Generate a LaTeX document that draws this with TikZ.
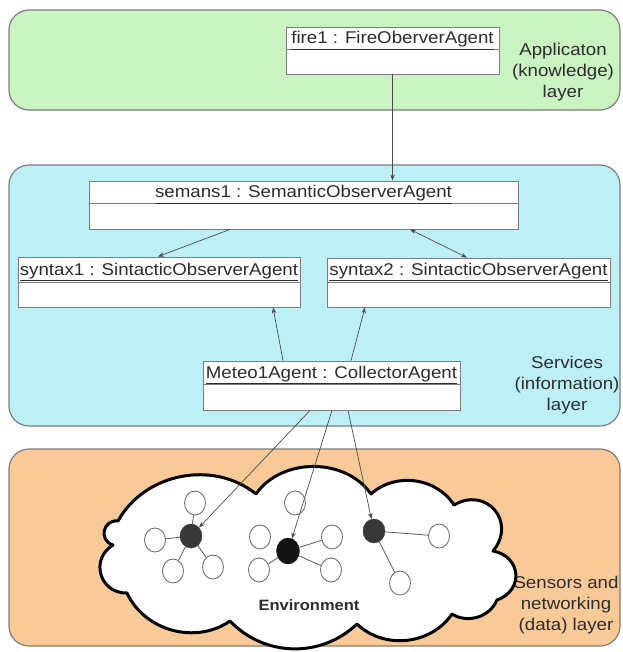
\documentclass[tikz,border=0pt]{standalone}
\usepackage{fontspec}
\setmainfont{Liberation Sans}[FakeStretch=1.1]
\usetikzlibrary{arrows.meta,calc,shapes.geometric}
\definecolor{appgreen}{RGB}{201,243,192}
\definecolor{svcblue}{RGB}{189,240,246}
\definecolor{datorange}{RGB}{249,201,152}
\definecolor{edgegray}{RGB}{125,125,125}
\definecolor{txt}{RGB}{45,45,45}
\tikzset{
  layer/.style={draw=edgegray, line width=1.2pt, rounded corners=20pt},
  umlbox/.style={draw=edgegray, fill=white, line width=0.9pt, inner sep=0pt},
  divider/.style={draw=edgegray, line width=1pt},
  hdr/.style={font=\fontsize{17}{21}\selectfont, text=txt, inner sep=1pt, anchor=base},
  lbl/.style={font=\fontsize{17}{21}\selectfont, text=txt, align=center, inner sep=0pt},
  envlbl/.style={font=\bfseries\fontsize{15}{18}\selectfont, text=txt, inner sep=0pt},
  conn/.style={draw=black!70, line width=0.7pt, -{Stealth[length=6pt,width=4.5pt]}},
  conntwo/.style={draw=black!70, line width=0.7pt, {Stealth[length=6pt,width=4.5pt]}-{Stealth[length=6pt,width=4.5pt]}},
  cloudline/.style={draw=black, line width=3pt, fill=white, line join=round},
  sensor/.style={ellipse, draw=black!55, line width=0.9pt, minimum width=21pt, minimum height=24pt, inner sep=0pt},
  hub/.style={ellipse, draw=black!80, fill=black!78, minimum width=22pt, minimum height=24pt, inner sep=0pt},
  wire/.style={draw=black!65, line width=0.8pt},
}
\begin{document}
\begin{tikzpicture}[x=1pt,y=-1pt]
\useasboundingbox (0,0) rectangle (622,652);
\fill[white] (0,0) rectangle (622,652);

% layers
\draw[layer, fill=appgreen] (9,10) rectangle (620,110);
\draw[layer, fill=svcblue] (9,165) rectangle (620,426);
\draw[layer, fill=datorange] (9,449) rectangle (620,646);

% layer labels
\node[lbl] (lapp) at (563,72) {Applicaton\\(knowledge)\\layer};
\node[lbl] (lsvc) at (567,385) {Services\\(information)\\layer};
\node[lbl] (ldat) at (566,605) {Sensors and\\networking\\(data) layer};

% cloud
\draw[cloudline]
  (118,521) to[bend left=50] (256,494)
  to[bend left=55] (371,494)
  to[bend left=50] (454,505)
  to[bend left=80, looseness=1.6] (493,551)
  to[bend left=75, looseness=1.5] (497,600)
  to[bend left=50] (452,614)
  to[bend left=50] (357,624)
  to[bend left=45] (230,621)
  to[bend left=50] (127,593)
  to[bend left=75, looseness=1.4] (113,545)
  to[bend left=85, looseness=1.6] (118,521) -- cycle;

\node[envlbl] (env) at (309,605) {Environment};

% network nodes
\node[hub] (n1) at (191,536) {};
\node[hub, fill=black!92, draw=black!95, minimum width=23pt, minimum height=26pt] (n2) at (288,551) {};
\node[hub] (n3) at (374,531) {};
\node[sensor] (s1) at (195,503) {};
\node[sensor] (s2) at (155,540) {};
\node[sensor] (s3) at (173,571) {};
\node[sensor] (s4) at (213,567) {};
\node[sensor] (s5) at (295,503) {};
\node[sensor] (s6) at (260,537) {};
\node[sensor] (s7) at (259,570) {};
\node[sensor] (s8) at (332,537) {};
\node[sensor] (s9) at (331,570) {};
\node[sensor] (s10) at (439,536) {};
\node[sensor] (s11) at (400,583) {};
\draw[wire] (n1) -- (s1);
\draw[wire] (n1) -- (s2);
\draw[wire] (n1) -- (s3);
\draw[wire] (n1) -- (s4);
\draw[wire] (n2) -- (s7);
\draw[wire] (n2) -- (s8);
\draw[wire] (n2) -- (s9);
\draw[wire] (n3) -- (s10);
\draw[wire] (n3) -- (s11);

% UML object boxes
\node[umlbox, minimum width=213pt, minimum height=47pt] (fire) at (392.5,50.5) {};
\draw[divider] (fire.west |- 0,50) -- (fire.east |- 0,50);
\node[hdr] (fireT) at (392.5,44) {\underline{fire1 : FireOberverAgent}};

\node[umlbox, minimum width=429pt, minimum height=48pt] (semans) at (303.5,205) {};
\draw[divider] (semans.west |- 0,204) -- (semans.east |- 0,204);
\node[hdr] (semansT) at (303.5,198) {\underline{semans1 : SemanticObserverAgent}};

\node[umlbox, minimum width=282pt, minimum height=50pt] (syn1) at (159,282) {};
\draw[divider] (syn1.west |- 0,282) -- (syn1.east |- 0,282);
\node[hdr] (syn1T) at (159,275.5) {\underline{syntax1 : SintacticObserverAgent}};

\node[umlbox, minimum width=283pt, minimum height=49pt] (syn2) at (468.5,282.5) {};
\draw[divider] (syn2.west |- 0,282) -- (syn2.east |- 0,282);
\node[hdr] (syn2T) at (468.5,275.5) {\underline{syntax2 : SintacticObserverAgent}};

\node[umlbox, minimum width=257pt, minimum height=49pt] (meteo) at (331.5,385.5) {};
\draw[divider] (meteo.west |- 0,384) -- (meteo.east |- 0,384);
\node[hdr] (meteoT) at (331.5,378) {\underline{Meteo1Agent : CollectorAgent}};

% connectors
\draw[conn] (fire.south) -- (fire.south |- semans.north);
\draw[conn] (semans.south -| 230,0) -- (syn1.north -| 158,0);
\draw[conntwo] (semans.south -| 410,0) -- (syn2.north -| 467,0);
\draw[conn] (meteo.north -| 283,0) -- (syn1.south -| 273,0);
\draw[conn] (meteo.north -| 351,0) -- (syn2.south -| 365,0);
\draw[conn] (meteo.south -| 310,0) -- (n1);
\draw[conn] (meteo.south -| 332,0) -- (n2);
\draw[conn] (meteo.south -| 348,0) -- (n3);
\end{tikzpicture}
\end{document}
